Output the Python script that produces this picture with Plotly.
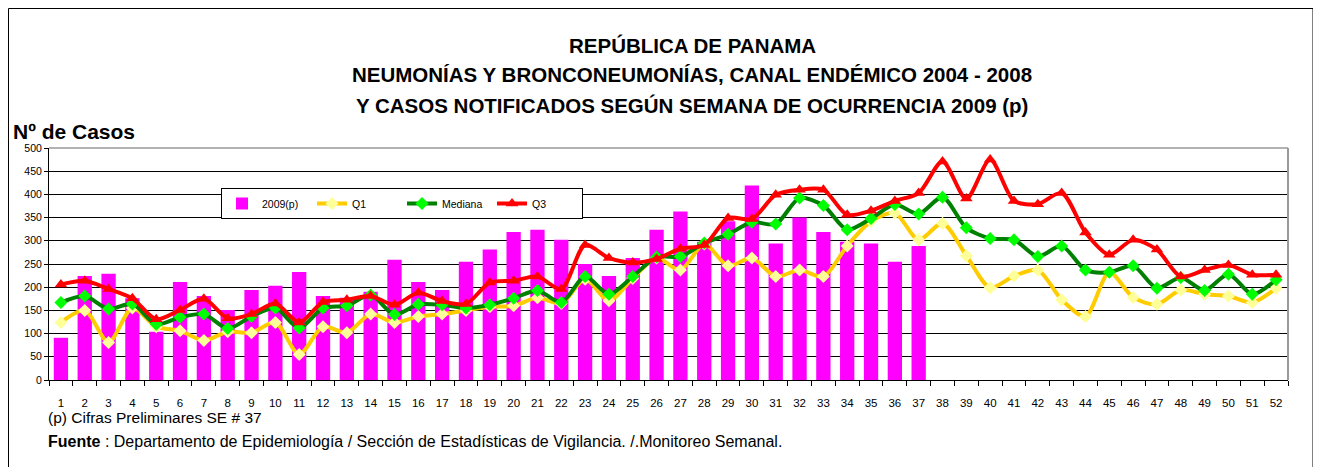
import plotly.graph_objects as go

weeks = list(range(1, 53))
week_labels = [str(w) for w in weeks]

casos_2009 = [91, 224, 229, 176, 104, 211, 181, 151, 194, 203, 233, 181,
              177, 190, 259, 211, 194, 255, 281, 319, 324, 302, 250, 224,
              263, 324, 363, 298, 342, 419, 294, 350, 319, 298, 294, 255, 289]

q1 = [124, 150, 81, 155, 115, 106, 85, 104, 102, 124, 55, 115,
      102, 142, 124, 137, 142, 150, 158, 160, 177, 165, 217, 171,
      219, 263, 237, 293, 246, 263, 223, 237, 223, 289, 342, 360,
      302, 338, 268, 199, 224, 237, 173, 137, 232, 178, 163, 194,
      185, 181, 167, 198]

mediana = [167, 181, 153, 164, 120, 135, 142, 111, 137, 155, 112, 155,
           160, 183, 141, 163, 162, 155, 162, 176, 193, 167, 223, 185,
           223, 265, 266, 295, 314, 340, 336, 392, 376, 324, 348, 378,
           358, 394, 328, 305, 302, 266, 289, 237, 232, 246, 198, 221,
           193, 228, 185, 216]

q3 = [206, 214, 196, 176, 131, 151, 175, 133, 142, 165, 124, 168,
      173, 181, 162, 188, 170, 164, 210, 214, 223, 196, 291, 263,
      253, 261, 283, 291, 349, 347, 399, 410, 410, 356, 365, 386,
      403, 471, 391, 475, 386, 379, 403, 318, 270, 302, 281, 223,
      237, 248, 227, 227]

y_ticks = list(range(0, 501, 50))

FONT = "Liberation Sans, Arial, sans-serif"

fig = go.Figure()
fig.add_trace(go.Bar(x=weeks[:len(casos_2009)], y=casos_2009, name="2009(p)",
                     marker=dict(color="#FF00FF", line=dict(width=0)), width=0.6))
fig.add_trace(go.Scatter(x=weeks, y=q1, name="Q1", mode="lines+markers",
                         line=dict(color="#FFCC00", width=4, shape="spline", smoothing=0.8),
                         marker=dict(symbol="diamond", size=10, color="#FFFF99",
                                     line=dict(width=0))))
fig.add_trace(go.Scatter(x=weeks, y=mediana, name="Mediana", mode="lines+markers",
                         line=dict(color="#008000", width=4, shape="spline", smoothing=0.8),
                         marker=dict(symbol="diamond", size=10, color="#00FF00",
                                     line=dict(width=0))))
fig.add_trace(go.Scatter(x=weeks, y=q3, name="Q3", mode="lines+markers",
                         line=dict(color="#FF0000", width=4, shape="spline", smoothing=0.8),
                         marker=dict(symbol="triangle-up", size=11, color="#FF0000",
                                     line=dict(width=0))))

# page has an 8px body margin; work in page pixels and convert
OX, OY = 8, 8
W, H = 1306, 459
PL, PR, PT, PB = 49, 1288, 148, 380   # plot area in page pixels
L = PL - OX
R = W - (PR - OX)
T = PT - OY
B = H - (PB - OY)
pw = W - L - R
ph = H - T - B


def px_x(x):
    return (x - OX - L) / pw


def px_y(y):
    return (H - B - (y - OY)) / ph


fig.update_layout(
    width=W, height=H,
    margin=dict(l=L, r=R, t=T, b=B),
    paper_bgcolor="white", plot_bgcolor="white",
    font=dict(family=FONT, color="black"),
    showlegend=True,
    legend=dict(orientation="h", x=px_x(221), y=px_y(188), xanchor="left", yanchor="top",
                bgcolor="white", bordercolor="black", borderwidth=1,
                font=dict(size=10.5, family=FONT),
                entrywidth=45, entrywidthmode="pixels",
                tracegroupgap=0),
    xaxis=dict(range=[0.5, 52.5], tickvals=weeks, ticktext=week_labels,
               tickfont=dict(size=11.5, family=FONT), ticks="",
               ticklabelstandoff=12,
               showgrid=False, showline=True, linecolor="black", linewidth=1,
               zeroline=False,
               minor=dict(tickvals=[w + 0.5 for w in range(0, 53)], ticks="outside",
                          ticklen=5, tickcolor="black", showgrid=False)),
    yaxis=dict(range=[0, 500], tickvals=y_ticks, tickfont=dict(size=10.5, family=FONT),
               showgrid=True, gridcolor="black", gridwidth=1,
               showline=True, linecolor="black", linewidth=1,
               ticks="outside", ticklen=4, tickcolor="black", zeroline=False),
)

# plot-area frame (gray right/top) and outer frame
fig.add_shape(type="line", xref="paper", yref="paper", x0=1, x1=1, y0=0, y1=1,
              line=dict(color="#999999", width=2))
fig.add_shape(type="line", xref="paper", yref="paper", x0=0, x1=1, y0=1, y1=1,
              line=dict(color="#999999", width=1.5), layer="below")
fig.add_shape(type="rect", xref="paper", yref="paper",
              x0=px_x(8.5), x1=px_x(1313), y0=px_y(490), y1=px_y(8.5),
              line=dict(color="black", width=1))

titles = ["REPÚBLICA DE PANAMA",
          "NEUMONÍAS Y BRONCONEUMONÍAS, CANAL ENDÉMICO 2004 - 2008",
          "Y CASOS NOTIFICADOS SEGÚN SEMANA DE OCURRENCIA 2009 (p)"]
for t, ypx in zip(titles, [45, 75, 105]):
    fig.add_annotation(text="<b>" + t + "</b>", xref="paper", yref="paper",
                       x=px_x(692), y=px_y(ypx), xanchor="center", yanchor="middle",
                       showarrow=False, font=dict(size=20.5, family=FONT))

fig.add_annotation(text="<b>Nº de Casos</b>", xref="paper", yref="paper",
                   x=px_x(11), y=px_y(131), xanchor="left", yanchor="middle",
                   showarrow=False, font=dict(size=21, family=FONT))

fig.add_annotation(text="(p) Cifras Preliminares SE # 37", xref="paper", yref="paper",
                   x=px_x(46), y=px_y(417), xanchor="left", yanchor="middle",
                   showarrow=False, font=dict(size=15.5, family=FONT))
fig.add_annotation(text="<b>Fuente</b> : Departamento de Epidemiología / Sección de Estadísticas de Vigilancia. /.Monitoreo Semanal.",
                   xref="paper", yref="paper",
                   x=px_x(46), y=px_y(441), xanchor="left", yanchor="middle",
                   showarrow=False, font=dict(size=16, family=FONT))

fig.write_html("out.html")
